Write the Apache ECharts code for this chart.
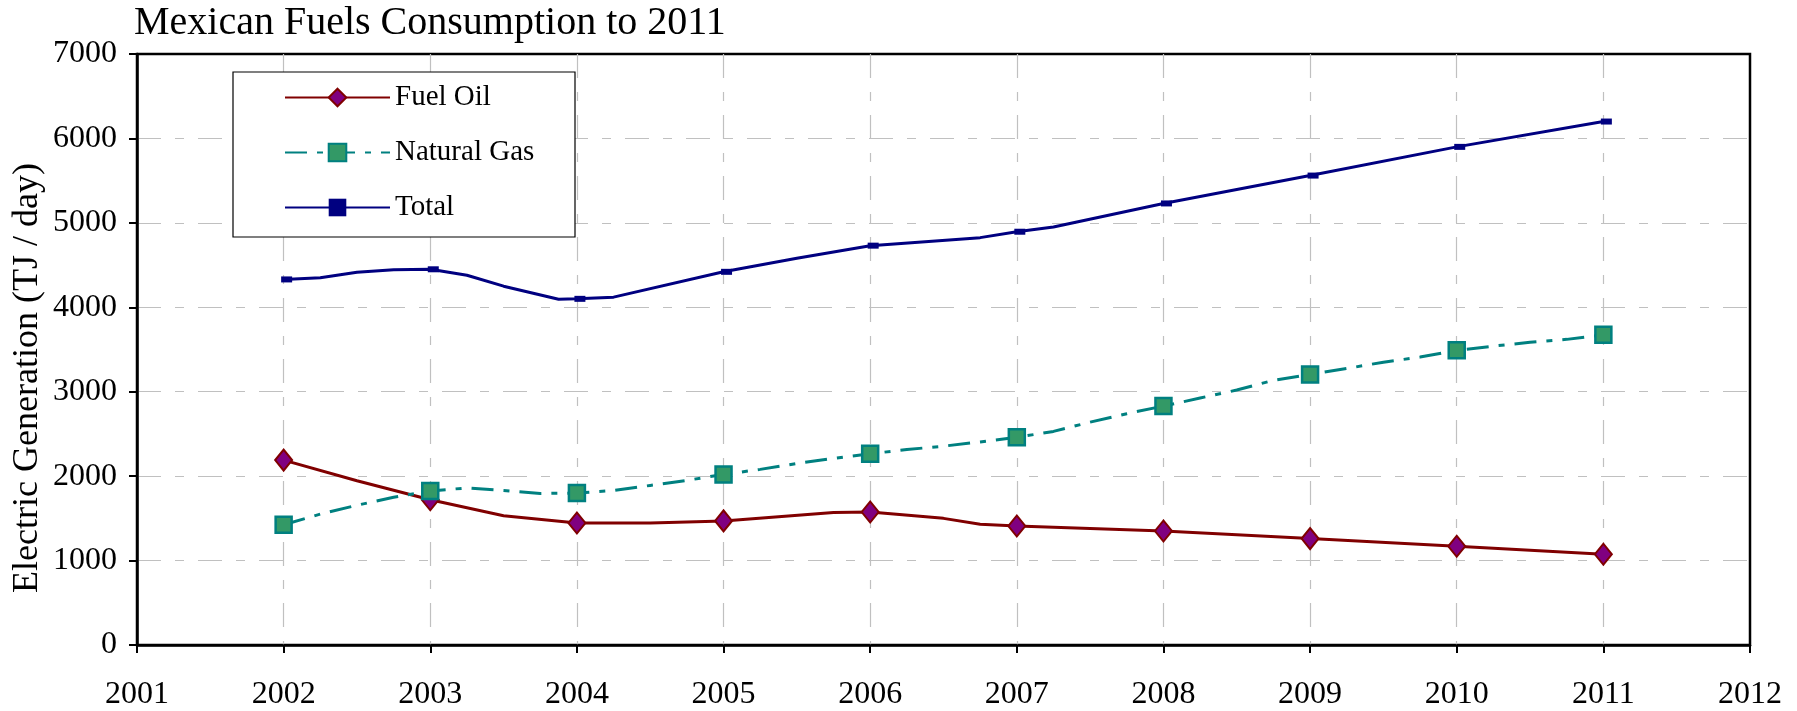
<!DOCTYPE html>
<html>
<head>
<meta charset="utf-8">
<script src="https://cdn.jsdelivr.net/npm/echarts@6/dist/echarts.min.js"></script>
<style>
html,body{margin:0;padding:0;background:#fff;}
#chart{width:1797px;height:711px;}
</style>
</head>
<body>
<div id="chart"></div>
<script>
// ---- data (year, TJ/day) ----
var titleText = "Mexican Fuels Consumption to 2011";
var yAxisTitle = "Electric Generation (TJ / day)";
var seriesNames = ["Fuel Oil", "Natural Gas", "Total"];
var fuelOil = [
  [2002, 2190], [2002.5, 1945], [2003, 1720], [2003.5, 1530], [2004, 1445],
  [2004.5, 1445], [2005, 1470], [2005.75, 1570], [2006, 1575], [2006.5, 1500],
  [2006.75, 1430], [2007, 1410], [2008, 1350], [2009, 1260], [2010, 1170], [2011, 1075]
];
var naturalGas = [
  [2002, 1425], [2002.25, 1550], [2002.5, 1655], [2002.75, 1750], [2003, 1825],
  [2003.25, 1860], [2003.5, 1830], [2003.75, 1795], [2004, 1800], [2004.25, 1830],
  [2004.5, 1890], [2004.75, 1950], [2005, 2020], [2005.25, 2080], [2005.5, 2150],
  [2005.75, 2210], [2006, 2265], [2006.25, 2315], [2006.5, 2355], [2006.75, 2405],
  [2007, 2460], [2007.25, 2530], [2007.5, 2640], [2007.75, 2740], [2008, 2830],
  [2008.25, 2925], [2008.5, 3020], [2008.75, 3135], [2009, 3205], [2009.25, 3275],
  [2009.5, 3350], [2009.75, 3410], [2010, 3490], [2010.25, 3540], [2010.5, 3585],
  [2010.75, 3620], [2011, 3675]
];
var total = [
  [2002, 4330], [2002.25, 4350], [2002.5, 4415], [2002.75, 4445], [2003, 4450],
  [2003.25, 4380], [2003.5, 4250], [2003.875, 4095], [2004, 4100], [2004.25, 4120],
  [2005, 4420], [2005.5, 4580], [2006, 4730], [2006.75, 4825], [2007, 4895],
  [2007.25, 4950], [2008, 5230], [2009, 5560], [2010, 5900], [2011, 6200]
];
var xMin = 2001, xMax = 2012, xStep = 1;
var yMin = 0, yMax = 7000, yStep = 1000;

// markers only on whole years
function withMarkers(arr) {
  return arr.map(function (p) {
    return Number.isInteger(p[0]) ? { value: p } : { value: p, symbol: 'none' };
  });
}

var FONT = "'Liberation Serif', 'Times New Roman', serif";
var gridDash = [24, 14, 9, 14];

var chart = echarts.init(document.getElementById('chart'), null, { renderer: 'canvas' });
chart.setOption({
  animation: false,
  backgroundColor: '#ffffff',
  title: {
    text: titleText,
    left: 134, top: 3, padding: 0,
    textStyle: { fontFamily: FONT, fontSize: 40, fontWeight: 'normal', color: '#000' }
  },
  grid: {
    left: 137, right: 47, top: 54, bottom: 63,
    show: true, borderColor: '#000', borderWidth: 2.5, backgroundColor: 'transparent'
  },
  legend: {
    orient: 'vertical',
    left: 284, top: 83,
    itemWidth: 105, itemHeight: 22, itemGap: 26,
    padding: 0,
    data: seriesNames,
    textStyle: { fontFamily: FONT, fontSize: 29, color: '#000', lineHeight: 24 },
    z: 10
  },
  graphic: [
    {
      type: 'rect', z: 5,
      shape: { x: 233, y: 72, width: 342, height: 165 },
      style: { fill: '#fff', stroke: '#000', lineWidth: 1.2 }
    },
    {
      type: 'text', z: 5,
      x: 28, y: 378, rotation: Math.PI / 2,
      style: {
        text: yAxisTitle, fill: '#000',
        font: "36px " + FONT,
        align: 'center', verticalAlign: 'middle'
      }
    }
  ],
  xAxis: {
    type: 'value', min: xMin, max: xMax, interval: xStep,
    axisLine: { show: true, lineStyle: { color: '#000', width: 2.5 } },
    axisTick: { show: true, inside: false, length: 8, lineStyle: { color: '#000', width: 2 } },
    axisLabel: { fontFamily: FONT, fontSize: 32, color: '#000', margin: 34, formatter: function (v) { return String(v); } },
    splitLine: { show: true, showMinLine: false, showMaxLine: false, lineStyle: { color: '#c0c0c0', width: 1.2, type: gridDash } }
  },
  yAxis: {
    type: 'value', min: yMin, max: yMax, interval: yStep,
    axisLine: { show: true, lineStyle: { color: '#000', width: 2.5 } },
    axisTick: { show: true, inside: false, length: 8, lineStyle: { color: '#000', width: 2 } },
    axisLabel: { fontFamily: FONT, fontSize: 32, color: '#000', margin: 20, formatter: function (v) { return String(v); } },
    splitLine: { show: true, showMinLine: false, showMaxLine: false, lineStyle: { color: '#c0c0c0', width: 1.2, type: gridDash } }
  },
  series: [
    {
      name: seriesNames[0], type: 'line', z: 3,
      data: withMarkers(fuelOil),
      symbol: 'diamond', symbolSize: [17, 21],
      lineStyle: { color: '#800000', width: 3 },
      itemStyle: { color: '#800080', borderColor: '#800000', borderWidth: 2 }
    },
    {
      name: seriesNames[1], type: 'line', z: 3,
      data: withMarkers(naturalGas),
      symbol: 'rect', symbolSize: 16,
      lineStyle: { color: '#008080', width: 3, type: [22, 10, 6, 10] },
      itemStyle: { color: '#339966', borderColor: '#008080', borderWidth: 2.5 }
    },
    {
      name: seriesNames[2], type: 'line', z: 3,
      data: withMarkers(total),
      symbol: 'rect', symbolSize: [11, 6], symbolOffset: [3, 0],
      lineStyle: { color: '#000080', width: 3 },
      itemStyle: { color: '#000080', borderColor: '#000080', borderWidth: 0 }
    }
  ]
});
</script>
</body>
</html>
